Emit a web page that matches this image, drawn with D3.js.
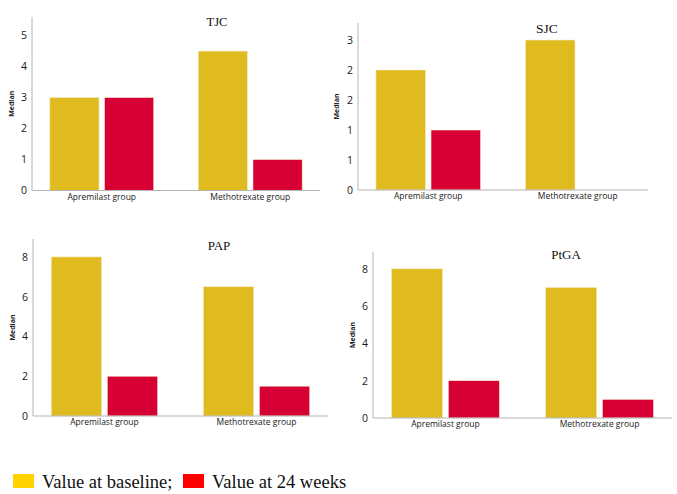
<!DOCTYPE html>
<html>
<head>
<meta charset="utf-8">
<script src="https://cdnjs.cloudflare.com/ajax/libs/d3/7.8.5/d3.min.js"></script>
<style>
  body { margin: 0; background: #fff; }
  svg { display: block; }
</style>
</head>
<body>
<svg width="677" height="494"></svg>
<script>
// data
var groups = ["Apremilast group", "Methotrexate group"];
var seriesNames = ["Value at baseline", "Value at 24 weeks"];
var titles = ["TJC", "SJC", "PAP", "PtGA"];

var tjcValues = [[3, 3], [4.5, 1]];
var sjcValues = [[2.4, 1.2], [3, 0]];
var papValues = [[8, 2], [6.5, 1.5]];
var ptgaValues = [[8, 2], [7, 1]];

var tjcTicks = [0, 1, 2, 3, 4, 5];
var tjcTickLabels = ["0", "1", "2", "3", "4", "5"];
var sjcTicks = [0, 0.6, 1.2, 1.8, 2.4, 3];
var sjcTickLabels = ["0", "1", "1", "2", "2", "3"];
var papTicks = [0, 2, 4, 6, 8];
var papTickLabels = ["0", "2", "4", "6", "8"];
var ptgaTicks = [0, 2, 4, 6, 8];
var ptgaTickLabels = ["0", "2", "4", "6", "8"];

var barColors = ["#e0bb1f", "#d70035"];
var legendColors = ["#ffd200", "#ff0000"];

var svg = d3.select('svg');

// panel layout
var panels = [
  {title: titles[0], values: tjcValues, ticks: tjcTicks, labels: tjcTickLabels, yMax: 5.6,
   left: 32, right: 320, top: 17, bottom: 190.5, titleX: 217, titleY: 26, titleSize: 12.5, medianX: 14},
  {title: titles[1], values: sjcValues, ticks: sjcTicks, labels: sjcTickLabels, yMax: 3.34,
   left: 358, right: 648, top: 23, bottom: 190, titleX: 547, titleY: 33, titleSize: 13.5, medianX: 339},
  {title: titles[2], values: papValues, ticks: papTicks, labels: papTickLabels, yMax: 8.9,
   left: 33, right: 328, top: 239, bottom: 416, titleX: 219, titleY: 249.5, titleSize: 13, medianX: 15},
  {title: titles[3], values: ptgaValues, ticks: ptgaTicks, labels: ptgaTickLabels, yMax: 8.9,
   left: 373, right: 672, top: 252, bottom: 418, titleX: 566, titleY: 259, titleSize: 13, medianX: 355}
];

panels.forEach(function(p){
  var g = svg.append('g');

  var x0 = d3.scaleBand()
    .domain(groups)
    .range([p.left, p.right])
    .paddingInner(0.3)
    .paddingOuter(0.12);

  var x1 = d3.scaleBand()
    .domain([0, 1])
    .range([0, x0.bandwidth()])
    .paddingInner(0.1);

  var y = d3.scaleLinear()
    .domain([0, p.yMax])
    .range([p.bottom, p.top]);

  // bars
  groups.forEach(function(grp, gi){
    g.selectAll(null)
      .data(p.values[gi])
      .enter()
      .append('rect')
      .attr('x', function(d, si){ return x0(grp) + x1(si); })
      .attr('y', function(d){ return y(d); })
      .attr('width', x1.bandwidth())
      .attr('height', function(d){ return y(0) - y(d); })
      .style('fill', function(d, si){ return barColors[si]; })
      .style('stroke', function(d, si){ return d > 0 ? '#f4ead0' : 'none'; })
      .style('stroke-width', 0.6);
  });

  // y axis with custom labels
  var yAxis = d3.axisLeft(y)
    .tickValues(p.ticks)
    .tickFormat(function(d, i){ return p.labels[i]; })
    .tickSize(0)
    .tickPadding(5);

  var ya = g.append('g')
    .attr('transform', 'translate(' + p.left + ',0)')
    .call(yAxis);
  ya.select('.domain').remove();
  ya.selectAll('text')
    .style('font-family', '"Open Sans", sans-serif')
    .style('font-size', '10.5px')
    .style('fill', '#1a1a1a');

  // x axis
  var xAxis = d3.axisBottom(x0).tickSize(0).tickPadding(3);
  var xa = g.append('g')
    .attr('transform', 'translate(0,' + p.bottom + ')')
    .call(xAxis);
  xa.select('.domain').remove();
  xa.selectAll('text')
    .style('font-family', '"Open Sans", sans-serif')
    .style('font-size', '8.5px')
    .style('fill', '#1a1a1a');

  // axis lines
  g.append('line')
    .attr('x1', p.left).attr('x2', p.left)
    .attr('y1', p.top).attr('y2', p.bottom)
    .style('stroke', '#b4b4b4').style('stroke-width', 1);
  g.append('line')
    .attr('x1', p.left).attr('x2', p.right)
    .attr('y1', p.bottom).attr('y2', p.bottom)
    .style('stroke', '#b4b4b4').style('stroke-width', 1);

  // y title
  g.append('text')
    .attr('transform', 'translate(' + p.medianX + ',' + ((p.top + p.bottom) / 2) + ') rotate(-90)')
    .attr('text-anchor', 'middle')
    .style('font-family', '"Open Sans", sans-serif')
    .style('font-weight', 'bold')
    .style('font-size', '7px')
    .style('fill', '#222')
    .text('Median');

  // panel title
  g.append('text')
    .attr('x', p.titleX)
    .attr('y', p.titleY)
    .attr('text-anchor', 'middle')
    .style('font-family', '"Liberation Serif", "Times New Roman", serif')
    .style('font-size', p.titleSize + 'px')
    .style('fill', '#111')
    .text(p.title);
});

// legend
var legendX = [13, 183];
var leg = svg.append('g');
seriesNames.forEach(function(name, i){
  leg.append('rect')
    .attr('x', legendX[i])
    .attr('y', 474)
    .attr('width', 21)
    .attr('height', 14)
    .style('fill', legendColors[i]);
  leg.append('text')
    .attr('x', legendX[i] + 29)
    .attr('y', 488)
    .style('font-family', '"Liberation Serif", "Times New Roman", serif')
    .style('font-size', '18.5px')
    .style('fill', '#111')
    .text(i === 0 ? name + ';' : name);
});
</script>
</body>
</html>
